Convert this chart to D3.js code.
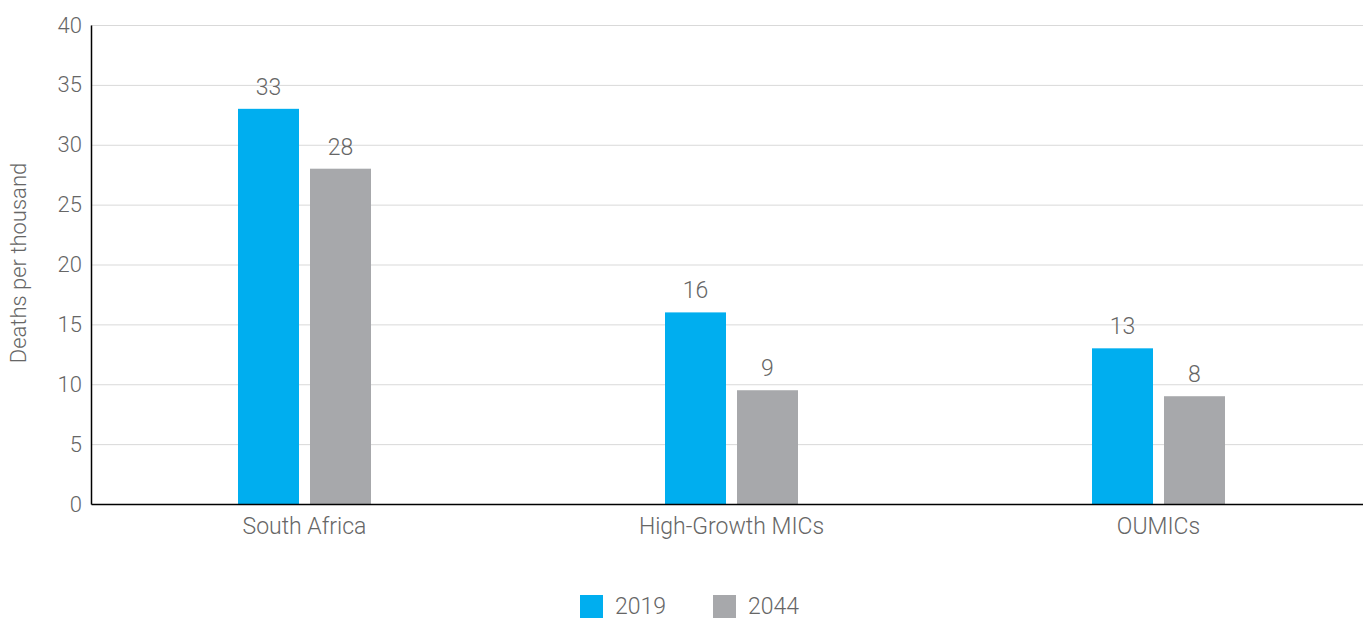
<!DOCTYPE html>
<html>
<head>
<meta charset="utf-8">
<script src="https://cdn.jsdelivr.net/npm/d3@7"></script>
<style>
  body { margin: 0; background: #fff; }
  text { font-family: Roboto, "Liberation Sans", Arial, sans-serif; font-weight: 300; fill: #666; }
</style>
</head>
<body>
<svg id="chart"></svg>
<script>
var width = 1363;
var height = 619;

// data
var categories = ["South Africa", "High-Growth MICs", "OUMICs"];
var years = ["2019", "2044"];
var values2019 = [33, 16, 13];
var values2044 = [28, 9.5, 9];
var labels2019 = ["33", "16", "13"];
var labels2044 = ["28", "9", "8"];
var yTicks = [0, 5, 10, 15, 20, 25, 30, 35, 40];
var colors = ["#00aeef", "#a7a8ab"];

var margin = {left: 91, top: 25, bottom: 504};

var svg = d3.select('#chart')
    .attr('width', width)
    .attr('height', height);

var x = d3.scaleBand()
    .domain(categories)
    .range([margin.left, 1372]);

var y = d3.scaleLinear()
    .domain([0, 40])
    .range([margin.bottom, margin.top]);

var barW = 61, gap = 11;

// gridlines
svg.selectAll('.grid')
    .data(yTicks.filter(function(t){ return t > 0; }))
    .enter()
    .append('line')
    .attr('x1', margin.left)
    .attr('x2', width)
    .attr('y1', function(d){ return y(d) + 0.5; })
    .attr('y2', function(d){ return y(d) + 0.5; })
    .style('stroke', '#d9d9d9')
    .style('stroke-width', 1);

// y axis
var yAxis = svg.append('g')
    .attr('transform', 'translate(' + margin.left + ',0)')
    .call(d3.axisLeft(y).tickValues(yTicks).tickSize(0).tickPadding(9));
yAxis.select('.domain').style('stroke', '#000').style('stroke-width', 1.5);
yAxis.selectAll('text').style('font-size', '22px').style('fill', '#666');

// bars
var series = [values2019, values2044];
var labelSets = [labels2019, labels2044];

series.forEach(function(vals, s){
    var offset = s === 0 ? -(barW + gap / 2) : gap / 2;
    svg.selectAll('.bar' + s)
        .data(vals)
        .enter()
        .append('rect')
        .attr('x', function(d, i){ return x(categories[i]) + x.bandwidth() / 2 + offset; })
        .attr('y', function(d){ return y(d); })
        .attr('width', barW)
        .attr('height', function(d){ return y(0) - y(d); })
        .style('fill', colors[s]);

    svg.selectAll('.lbl' + s)
        .data(vals)
        .enter()
        .append('text')
        .attr('x', function(d, i){ return x(categories[i]) + x.bandwidth() / 2 + offset + barW / 2; })
        .attr('y', function(d){ return y(d) - 14; })
        .attr('text-anchor', 'middle')
        .style('font-size', '23px')
        .text(function(d, i){ return labelSets[s][i]; });
});

// x axis
var xAxis = svg.append('g')
    .attr('transform', 'translate(0,' + margin.bottom + ')')
    .call(d3.axisBottom(x).tickSize(0).tickPadding(14));
xAxis.select('.domain').style('stroke', '#000').style('stroke-width', 1.5);
xAxis.selectAll('text').style('font-size', '23px').style('fill', '#666');

// y axis title
svg.append('text')
    .attr('transform', 'translate(26,' + 263 + ') rotate(-90)')
    .attr('text-anchor', 'middle')
    .style('font-size', '22px')
    .text('Deaths per thousand');

// legend
var legend = svg.selectAll('.legend')
    .data(years)
    .enter()
    .append('g')
    .attr('transform', function(d, i){ return 'translate(' + (580 + i * 133) + ',595)'; });
legend.append('rect')
    .attr('width', 23)
    .attr('height', 23)
    .style('fill', function(d, i){ return colors[i]; });
legend.append('text')
    .attr('x', 35)
    .attr('y', 19)
    .style('font-size', '23px')
    .text(function(d){ return d; });
</script>
</body>
</html>
